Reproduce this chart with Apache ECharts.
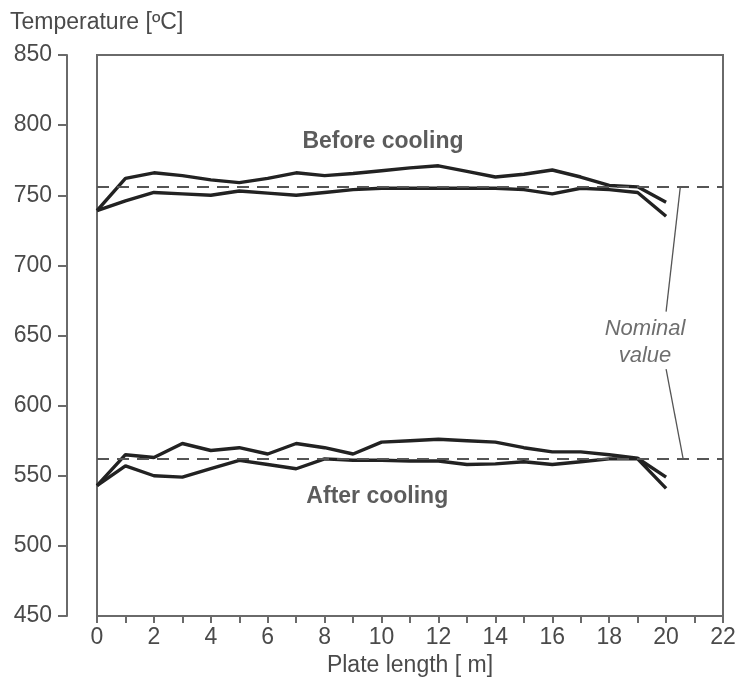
<!DOCTYPE html>
<html>
<head>
<meta charset="utf-8">
<script src="https://cdn.jsdelivr.net/npm/echarts@6/dist/echarts.min.js"></script>
<style>
  html, body { margin: 0; padding: 0; background: #fff; }
  #chart { width: 740px; height: 686px; }
</style>
</head>
<body>
<div id="chart"></div>
<script>
// Plate positions along the length [m]
const plateLength = [0, 1, 2, 3, 4, 5, 6, 7, 8, 9, 10, 11, 12, 13, 14, 15, 16, 17, 18, 19, 20];

// Temperature traces before cooling [°C]
const beforeUpper = [739, 762, 766, 764, 761, 759, 762, 766, 764, 765.5, 767.5, 769.5, 771, 767, 763, 765, 768, 763, 757, 756, 745];
const beforeLower = [739, 746, 752, 751, 750, 753, 751.5, 750, 752, 754, 755, 755, 755, 755, 755, 754, 751, 755, 754, 752, 735];

// Temperature traces after cooling [°C]
const afterUpper = [543, 565, 563, 573, 568, 570, 565.5, 573, 570, 565.5, 574, 575, 576, 575, 574, 570, 567, 567, 565, 562.5, 549];
const afterLower = [543, 557, 550, 549, 555, 561, 558, 555, 562, 561, 561, 560.5, 560.5, 558, 558.5, 560, 558, 560, 562, 562, 541];

// Nominal target temperatures [°C]
const nominalBefore = 756;
const nominalAfter = 562;

// Axis ranges and tick steps
const xMin = 0, xMax = 22, xStep = 1;
const yMin = 450, yMax = 850, yStep = 50;

const FONT = '"Liberation Sans", Arial, Helvetica, sans-serif';
const INK = '#222';
const GREY = '#4a4a4a';
const AXIS = '#6a6a6a';

const pairs = ys => ys.map((y, i) => [plateLength[i], y]);

function trace(name, ys) {
  return {
    name: name,
    type: 'line',
    data: pairs(ys),
    symbol: 'none',
    smooth: false,
    lineStyle: { color: INK, width: 3.4 },
    z: 3
  };
}

const chart = echarts.init(document.getElementById('chart'));

chart.setOption({
  backgroundColor: '#fff',
  animation: false,
  grid: {
    left: 97, right: 17, top: 55, bottom: 70,
    outerBoundsMode: 'none',
    containLabel: false,
    show: true,
    borderColor: AXIS,
    borderWidth: 2,
    backgroundColor: 'transparent'
  },
  xAxis: {
    type: 'value',
    min: xMin, max: xMax, interval: xStep,
    name: 'Plate length [ m]',
    nameLocation: 'middle',
    nameGap: 36,
    nameTextStyle: { fontFamily: FONT, fontSize: 23, color: GREY },
    axisLine: { show: true, onZero: false, lineStyle: { color: AXIS, width: 2 } },
    axisTick: { show: true, length: 7, lineStyle: { color: AXIS, width: 2 } },
    axisLabel: {
      margin: 10,
      fontFamily: FONT, fontSize: 23, color: GREY,
      formatter: v => (v % 2 === 0 ? String(v) : '')
    },
    splitLine: { show: false }
  },
  yAxis: {
    type: 'value',
    min: yMin, max: yMax, interval: yStep,
    offset: 30,
    axisLine: { show: true, onZero: false, lineStyle: { color: AXIS, width: 2 } },
    axisTick: { show: true, length: 9, lineStyle: { color: AXIS, width: 2 } },
    axisLabel: { margin: 15, fontFamily: FONT, fontSize: 23, color: GREY },
    splitLine: { show: false }
  },
  graphic: [
    {
      type: 'text',
      left: 10, top: 11,
      style: { text: 'Temperature [ºC]', font: '23px ' + FONT, fill: GREY }
    }
  ],
  series: [
    trace('Before cooling (1)', beforeUpper),
    Object.assign(trace('Before cooling (2)', beforeLower), {
      markLine: {
        silent: true,
        symbol: 'none',
        label: { show: false },
        lineStyle: { color: '#555', type: [12, 8], width: 1.8 },
        data: [{ yAxis: nominalBefore }, { yAxis: nominalAfter }]
      }
    }),
    trace('After cooling (1)', afterUpper),
    trace('After cooling (2)', afterLower),
    // leader lines from the "Nominal value" note to the two dashed lines
    {
      type: 'line', symbol: 'none', silent: true,
      data: [[20.5, nominalBefore], [20.0, 667]],
      lineStyle: { color: '#555', width: 1.3 }, z: 2
    },
    {
      type: 'line', symbol: 'none', silent: true,
      data: [[20.0, 626], [20.6, nominalAfter]],
      lineStyle: { color: '#555', width: 1.3 }, z: 2
    },
    // text notes anchored in data coordinates
    {
      type: 'scatter', symbolSize: 0, silent: true,
      data: [
        { value: [10.05, 788], label: { formatter: 'Before cooling', fontWeight: 'bold' } },
        { value: [9.85, 535], label: { formatter: 'After cooling', fontWeight: 'bold' } },
        { value: [19.26, 645], label: { formatter: 'Nominal\nvalue', fontStyle: 'italic', lineHeight: 27, fontSize: 22, color: GREY } }
      ],
      label: {
        show: true, position: 'inside',
        fontFamily: FONT, fontSize: 23, color: '#333'
      }
    }
  ]
});
</script>
</body>
</html>
